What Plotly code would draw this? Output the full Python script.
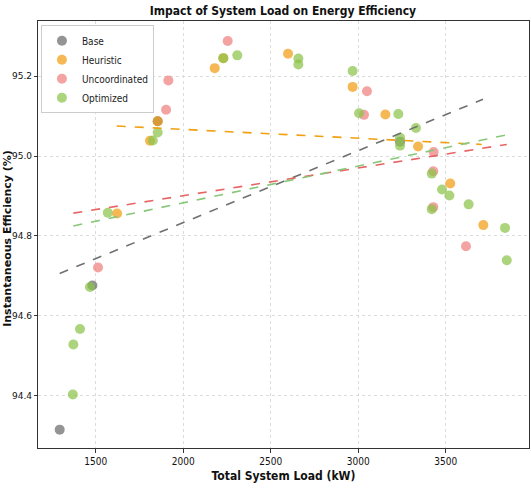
"""Scatter of system load vs instantaneous efficiency, with per-strategy trend lines."""

import plotly.graph_objects as go

# --- data ---
base_load = [1294, 1481, 1854, 3239]
base_eff = [94.315, 94.676, 95.087, 95.036]

heur_load = [1622, 1810, 1854, 2180, 2229, 2599, 2968, 3155, 3342, 3526, 3715]
heur_eff = [94.856, 95.038, 95.087, 95.220, 95.245, 95.256, 95.173, 95.104, 95.024, 94.931, 94.827]

uncoord_load = [1513, 1902, 1915, 2254, 3033, 3050, 3429, 3429, 3431, 3616]
uncoord_eff = [94.721, 95.116, 95.189, 95.288, 95.103, 95.162, 94.872, 94.962, 95.010, 94.774]

opt_load = [1369, 1372, 1410, 1467, 1569, 1826, 1854, 2229, 2309, 2658, 2658, 2968,
            3005, 3229, 3239, 3239, 3330, 3420, 3420, 3479, 3521, 3631, 3839, 3849]
opt_eff = [94.403, 94.528, 94.567, 94.672, 94.858, 95.039, 95.059, 95.245, 95.252, 95.244,
           95.229, 95.213, 95.107, 95.105, 95.046, 95.026, 95.070, 94.956, 94.867, 94.916,
           94.901, 94.879, 94.820, 94.739]

# linear trend per strategy: (x_start, x_end), (y_start, y_end)
trend_x = {"Base": [1294, 3713], "Heuristic": [1620, 3706],
           "Uncoordinated": [1372, 3849], "Optimized": [1372, 3849]}
trend_y = {"Base": [94.706, 95.142], "Heuristic": [95.075, 95.029],
           "Uncoordinated": [94.857, 95.029], "Optimized": [94.825, 95.053]}

x_ticks = [1500, 2000, 2500, 3000, 3500]
y_ticks = [94.4, 94.6, 94.8, 95.0, 95.2]

series = [
    ("Base", base_load, base_eff, "#6b6b6b", "#707070"),
    ("Heuristic", heur_load, heur_eff, "#F39C12", "#F0A010"),
    ("Uncoordinated", uncoord_load, uncoord_eff, "#F08080", "#E86464"),
    ("Optimized", opt_load, opt_eff, "#8BC34A", "#86C878"),
]

NARROW = "DejaVu Sans Condensed, Liberation Sans Narrow, sans-serif"

fig = go.Figure()
for name, xs, ys, color, _ in series:
    fig.add_trace(go.Scatter(
        x=xs, y=ys, mode="markers", name=name,
        marker=dict(color=color, size=10, opacity=0.72, line=dict(width=0)),
    ))
for name, _, _, _, lcolor in series:
    fig.add_trace(go.Scatter(
        x=trend_x[name], y=trend_y[name], mode="lines", showlegend=False,
        line=dict(color=lcolor, width=1.6, dash="dash"),
    ))

fig.update_layout(
    width=531, height=488,
    margin=dict(l=38, r=2, t=21, b=40, autoexpand=False),
    paper_bgcolor="white", plot_bgcolor="white",
    title=dict(text="<b>Impact of System Load on Energy Efficiency</b>",
               x=0.533, xanchor="center", y=0.977, yanchor="middle",
               font=dict(family=NARROW, size=12, color="#111")),
    legend=dict(x=0.006, y=0.99, xanchor="left", yanchor="top",
                bgcolor="white", bordercolor="#cccccc", borderwidth=1,
                font=dict(family=NARROW, size=10, color="#222"),
                itemwidth=30, tracegroupgap=0),
    showlegend=True,
)
fig.update_xaxes(
    range=[1170, 3976], tickvals=x_ticks, automargin=False,
    tickfont=dict(family=NARROW, size=10, color="#111"),
    ticks="outside", ticklen=4, tickcolor="#333",
    showline=True, mirror=True, linecolor="#333", linewidth=1.3,
    showgrid=True, gridcolor="#dcdcdc", griddash="dot", gridwidth=1,
    zeroline=False,
    title=dict(text="<b>Total System Load (kW)</b>", standoff=5,
               font=dict(family=NARROW, size=12, color="#111")),
)
fig.update_yaxes(
    range=[94.269, 95.338], tickvals=y_ticks, tickformat=".1f", automargin=False,
    tickfont=dict(family="DejaVu Sans", size=9, color="#111"),
    ticks="outside", ticklen=3, tickcolor="#333",
    showline=True, mirror=True, linecolor="#333", linewidth=1.3,
    showgrid=True, gridcolor="#dcdcdc", griddash="dot", gridwidth=1,
    zeroline=False,
)
fig.add_annotation(
    text="<b>Instantaneous Efficiency (%)</b>", textangle=-90,
    xref="paper", yref="paper", x=-0.061, y=0.49, xanchor="center", yanchor="middle",
    showarrow=False, font=dict(family="DejaVu Sans", size=11, color="#111"),
)

# page body has a default 8px margin; drop it so the 531x488 figure fills the window
fig.write_html("out.html", config={"displayModeBar": False},
               post_script="document.body.style.margin = '0';")
